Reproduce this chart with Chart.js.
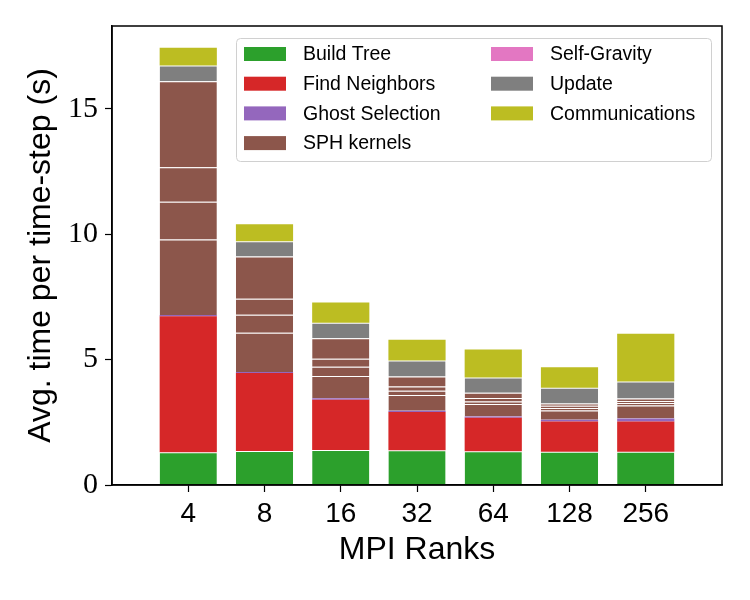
<!DOCTYPE html>
<html>
<head>
<meta charset="utf-8">
<script src="https://cdn.jsdelivr.net/npm/chart.js@4/dist/chart.umd.min.js"></script>
<style>
    body { margin: 0; background: #fff; }
</style>
</head>
<body>
<canvas id="timingChart" width="750" height="600"></canvas>
<script>
// MPI ranks on the x axis
const ranks = ['4', '8', '16', '32', '64', '128', '256'];

// seconds per time-step
const buildTree      = [1.31, 1.36, 1.40, 1.39, 1.35, 1.33, 1.33];
const findNeighbors  = [5.42, 3.11, 2.00, 1.52, 1.33, 1.20, 1.20];
const ghostSelection = [0.05, 0.04, 0.06, 0.05, 0.05, 0.07, 0.12];
// SPH kernels are stacked from four separate kernels (same colour)
const sphKernelA     = [3.01, 1.56, 0.89, 0.63, 0.50, 0.37, 0.52];
const sphKernelB     = [1.50, 0.72, 0.36, 0.17, 0.10, 0.10, 0.10];
const sphKernelC     = [1.38, 0.64, 0.32, 0.17, 0.14, 0.09, 0.08];
const sphKernelD     = [3.43, 1.68, 0.82, 0.40, 0.21, 0.09, 0.10];
const selfGravity    = [0, 0, 0, 0, 0, 0, 0];
const update         = [0.63, 0.61, 0.62, 0.63, 0.61, 0.63, 0.68];
const communications = [0.70, 0.68, 0.81, 0.83, 1.11, 0.81, 1.90];

const yTicks = [0, 5, 10, 15];

const legendItems = [
    ['Build Tree', '#2ca02c'],
    ['Find Neighbors', '#d62728'],
    ['Ghost Selection', '#9467bd'],
    ['SPH kernels', '#8c564b'],
    ['Self-Gravity', '#e377c2'],
    ['Update', '#7f7f7f'],
    ['Communications', '#bcbd22']
];

function series(label, values, color, edge) {
    return {
        label: label,
        data: values.map((v, i) => ({ x: i, y: v })),
        backgroundColor: color,
        borderColor: 'rgba(255,255,255,0.2)',
        borderWidth: edge ? { top: 1, left: 0, right: 0, bottom: 0 } : 0,
        borderSkipped: false
    };
}

// legend box drawn inside the plot, two columns like matplotlib's ncol=2
const boxLegend = {
    id: 'boxLegend',
    afterDatasetsDraw(chart) {
        const ctx = chart.ctx;
        const a = chart.chartArea;
        ctx.save();
        // frame around the plot
        ctx.strokeStyle = '#000';
        ctx.lineWidth = 1.5;
        ctx.strokeRect(a.left, a.top, a.right - a.left, a.bottom - a.top);

        ctx.beginPath();
        ctx.roundRect(236.5, 38.5, 475, 123, 4);
        ctx.fillStyle = 'rgba(255,255,255,0.85)';
        ctx.fill();
        ctx.strokeStyle = '#d0d0d0';
        ctx.lineWidth = 1;
        ctx.stroke();

        ctx.font = '19.5px "Liberation Sans", Arial, sans-serif';
        ctx.textBaseline = 'middle';
        ctx.textAlign = 'left';
        legendItems.forEach((item, i) => {
            const col = i < 4 ? 0 : 1;
            const row = i < 4 ? i : i - 4;
            const x = col === 0 ? 244 : 491;
            const y = 54 + row * 29.7;
            ctx.fillStyle = item[1];
            ctx.fillRect(x, y - 7, 42, 14);
            ctx.fillStyle = '#000';
            ctx.fillText(item[0], x + 59, y + 1);
        });
        ctx.restore();
    }
};

const ctx = document.getElementById('timingChart').getContext('2d');
const timingChart = new Chart(ctx, {
    type: 'bar',
    data: {
        datasets: [
            series('Build Tree', buildTree, '#2ca02c', true),
            series('Find Neighbors', findNeighbors, '#d62728', false),
            series('Ghost Selection', ghostSelection, '#9467bd', false),
            series('SPH kernels', sphKernelA, '#8c564b', true),
            series('SPH kernels', sphKernelB, '#8c564b', true),
            series('SPH kernels', sphKernelC, '#8c564b', true),
            series('SPH kernels', sphKernelD, '#8c564b', true),
            series('Self-Gravity', selfGravity, '#e377c2', false),
            series('Update', update, '#7f7f7f', true),
            series('Communications', communications, '#bcbd22', false)
        ]
    },
    options: {
        responsive: false,
        animation: false,
        layout: { padding: { left: 0, top: 26, right: 28, bottom: 0 } },
        datasets: {
            bar: { barPercentage: 0.75, categoryPercentage: 1 }
        },
        plugins: {
            legend: { display: false },
            tooltip: { enabled: false }
        },
        scales: {
            x: {
                type: 'linear',
                stacked: true,
                min: -1,
                max: 7,
                offset: false,
                afterBuildTicks: (scale) => {
                    scale.ticks = ranks.map((r, i) => ({ value: i }));
                },
                afterFit: (scale) => { scale.height = 115; },
                grid: {
                    offset: false,
                    drawOnChartArea: false,
                    drawTicks: true,
                    tickLength: 7,
                    tickWidth: 1.2,
                    tickColor: '#000'
                },
                border: { display: true, color: '#000', width: 1.5 },
                ticks: {
                    autoSkip: false,
                    maxRotation: 0,
                    padding: 5,
                    color: '#000',
                    font: { family: '"Liberation Sans", Arial, sans-serif', size: 28 },
                    callback: (value) => ranks[value]
                },
                title: {
                    display: true,
                    text: 'MPI Ranks',
                    color: '#000',
                    padding: { top: 0, bottom: 31 },
                    font: { family: '"Liberation Sans", Arial, sans-serif', size: 32 }
                }
            },
            y: {
                stacked: true,
                min: 0,
                max: 18.3,
                afterBuildTicks: (scale) => {
                    scale.ticks = yTicks.map(v => ({ value: v }));
                },
                afterFit: (scale) => { scale.width = 112; },
                grid: {
                    drawOnChartArea: false,
                    drawTicks: true,
                    tickLength: 7,
                    tickWidth: 1.2,
                    tickColor: '#000'
                },
                border: { display: true, color: '#000', width: 1.5 },
                ticks: {
                    padding: 7,
                    color: '#000',
                    font: { family: '"Liberation Serif", "Times New Roman", serif', size: 30 }
                },
                title: {
                    display: true,
                    text: 'Avg. time per time-step (s)',
                    color: '#000',
                    padding: { top: 22, bottom: 0 },
                    font: { family: '"Liberation Sans", Arial, sans-serif', size: 32 }
                }
            }
        }
    },
    plugins: [boxLegend]
});
</script>
</body>
</html>
